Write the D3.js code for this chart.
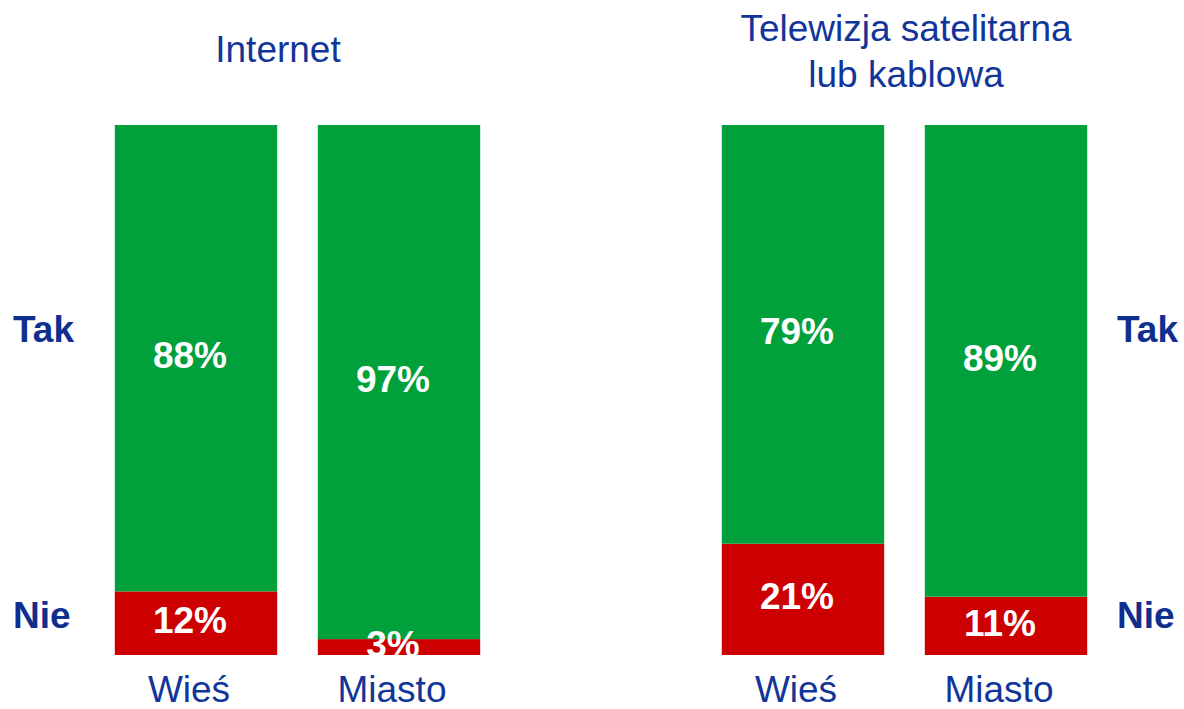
<!DOCTYPE html>
<html><head><meta charset="utf-8">
<script src="https://cdn.jsdelivr.net/npm/d3@7"></script>
<style>html,body{margin:0;padding:0;background:#fff;}svg{display:block;}</style>
</head><body>
<svg id="chart" width="1184" height="709"></svg>
<script>
const categories = ["Wieś", "Miasto"];
const internetTak = [88, 97];
const internetNie = [12, 3];
const tvTak = [79, 89];
const tvNie = [21, 11];
const panelTitles = [["Internet"], ["Telewizja satelitarna", "lub kablowa"]];
const rowLabels = ["Tak", "Nie"];

const GREEN = "#00A03B", RED = "#CC0000", BLUE = "#12359A", NAVY = "#0F2F8E";
const FONT = "'Liberation Sans', Arial, sans-serif";
const svg = d3.select("#chart");
const y = d3.scaleLinear().domain([0, 100]).range([655, 125]);

const panels = [
  {tak: internetTak, nie: internetNie, range: [94.5, 500.5], title: panelTitles[0], titleX: 278, titleY: [62]},
  {tak: tvTak, nie: tvNie, range: [701.5, 1107.5], title: panelTitles[1], titleX: 906, titleY: [41, 87]}
];

panels.forEach((p, pi) => {
  const x = d3.scaleBand().domain(categories).range(p.range).paddingInner(0.2).paddingOuter(0.1);
  const g = svg.append("g");
  const clipId = "clip" + pi;
  svg.append("clipPath").attr("id", clipId).append("rect")
    .attr("x", p.range[0]).attr("y", y(100)).attr("width", p.range[1] - p.range[0]).attr("height", y(0) - y(100));
  const data = categories.map((c, i) => ({c, nie: p.nie[i], tak: p.tak[i]}));
  g.selectAll(".nie").data(data).join("rect")
    .attr("x", d => x(d.c)).attr("width", x.bandwidth())
    .attr("y", d => y(d.nie)).attr("height", d => y(0) - y(d.nie)).attr("fill", RED);
  g.selectAll(".tak").data(data).join("rect")
    .attr("x", d => x(d.c)).attr("width", x.bandwidth())
    .attr("y", d => y(d.nie + d.tak)).attr("height", d => y(d.nie) - y(d.nie + d.tak)).attr("fill", GREEN);
  const lg = g.append("g").attr("clip-path", `url(#${clipId})`)
    .attr("font-family", FONT).attr("font-weight", "bold").attr("font-size", 37)
    .attr("fill", "#fff").attr("text-anchor", "middle");
  lg.selectAll(".ln").data(data).join("text")
    .attr("x", d => x(d.c) + x.bandwidth() / 2 - 6)
    .attr("y", d => (y(0) + y(d.nie)) / 2 + 10)
    .text(d => d.nie + "%");
  lg.selectAll(".lt").data(data).join("text")
    .attr("x", d => x(d.c) + x.bandwidth() / 2 - 6)
    .attr("y", d => (y(d.nie) + y(d.nie + d.tak)) / 2 + 10)
    .text(d => d.tak + "%");
  g.selectAll(".cat").data(categories).join("text")
    .attr("x", d => x(d) + x.bandwidth() / 2 - 7).attr("y", 702)
    .attr("text-anchor", "middle").attr("font-family", FONT).attr("font-size", 37)
    .attr("fill", BLUE).text(d => d);
  g.selectAll(".title").data(p.title).join("text")
    .attr("x", p.titleX).attr("y", (d, i) => p.titleY[i])
    .attr("text-anchor", "middle").attr("font-family", FONT).attr("font-size", 37)
    .attr("fill", BLUE).text(d => d);
});

const rowY = [342, 628];
[13, 1117].forEach(xx => {
  svg.append("g").selectAll("text").data(rowLabels).join("text")
    .attr("x", xx).attr("y", (d, i) => rowY[i])
    .attr("text-anchor", "start").attr("font-family", FONT).attr("font-weight", "bold")
    .attr("font-size", 37).attr("fill", NAVY).text(d => d);
});
</script>
</body></html>
